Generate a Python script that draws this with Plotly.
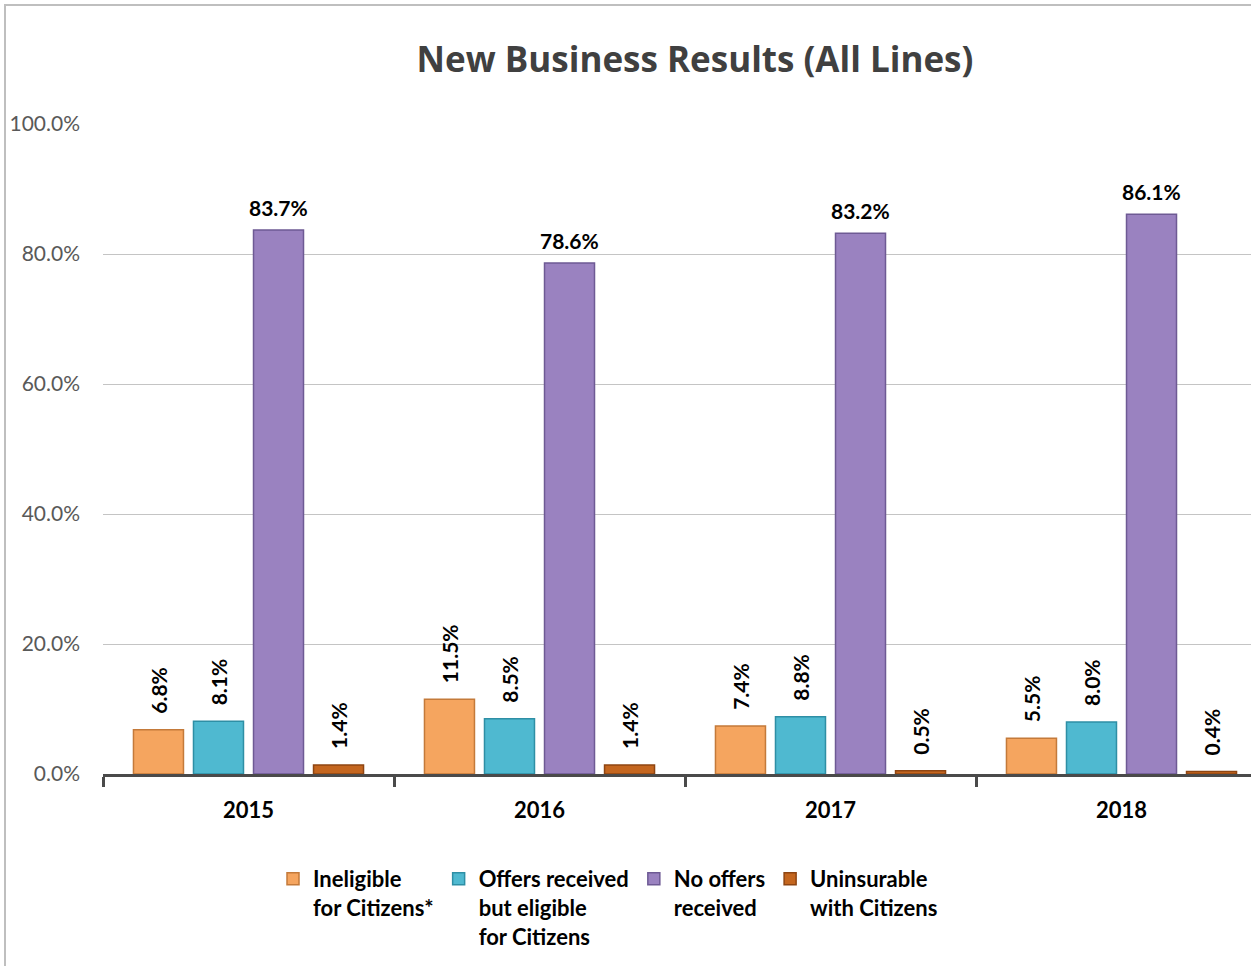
import plotly.graph_objects as go

years = ["2015", "2016", "2017", "2018"]
series_names = ["Ineligible<br>for Citizens*", "Offers received<br>but eligible<br>for Citizens",
                "No offers<br>received", "Uninsurable<br>with Citizens"]
ineligible = [6.8, 11.5, 7.4, 5.5]
offers_eligible = [8.1, 8.5, 8.8, 8.0]
no_offers = [83.7, 78.6, 83.2, 86.1]
uninsurable = [1.4, 1.4, 0.5, 0.4]

colors = ["#F5A55F", "#4FB9D0", "#9A82C0", "#C4661F"]
edge = ["#C47A3A", "#2E8FA5", "#6E5A94", "#8E4512"]
values = [ineligible, offers_eligible, no_offers, uninsurable]
angles = [-90, -90, 0, -90]

W, H = 1251, 966
ml, mr, mt, mb = 103, 0, 124, 192
pw, ph = W - ml - mr, H - mt - mb
cat_px = 291.0
x_max = -0.5 + pw / cat_px
bargap, groupgap = 0.175, 0.167
slot = cat_px * (1 - bargap) / 4

fig = go.Figure()
for i, (name, vals, c, e, a) in enumerate(zip(series_names, values, colors, edge, angles)):
    fig.add_trace(go.Bar(
        x=years, y=vals, name=name,
        marker=dict(color=c, line=dict(color=e, width=1.5)),
        cliponaxis=False,
    ))
    for j, v in enumerate(vals):
        fig.add_annotation(
            x=j, y=v, xref="x", yref="y", text=f"<b>{v:.1f}%</b>",
            showarrow=False, textangle=a, xanchor="center", yanchor="bottom",
            xshift=float((i - 1.5) * slot), yshift=(14 if a else 8),
            font=dict(family="Lato", size=21, color="#000000"),
        )

fig.update_layout(
    width=W, height=H,
    margin=dict(l=ml, r=mr, t=mt, b=mb),
    paper_bgcolor="white", plot_bgcolor="white",
    barmode="group", bargap=bargap, bargroupgap=groupgap,
    title=dict(text="<b>New Business Results (All Lines)</b>", x=695 / W, xanchor="center",
               y=1 - 60 / H, yanchor="middle",
               font=dict(family="Open Sans", size=35, color="#404040")),
    font=dict(family="Open Sans"),
    showlegend=True,
    legend=dict(orientation="h", x=(608 - ml) / pw, xanchor="center", y=-(858 - (mt + ph)) / ph, yanchor="top",
                font=dict(family="Lato", size=22, color="#000000", weight="bold"),
                traceorder="normal", itemwidth=30, valign="top"),
    xaxis=dict(type="category", range=[-0.5, x_max], showline=True, linecolor="#4A4A4A", linewidth=3,
               ticks="outside", tickson="boundaries", ticklen=10, tickwidth=3, tickcolor="#4A4A4A",
               tickfont=dict(family="Lato", size=22, color="#000000", weight="bold"),
               ticklabelstandoff=15, showgrid=False),
    yaxis=dict(range=[0, 100], tickvals=[0, 20, 40, 60, 80, 100],
               ticktext=["0.0%", "20.0%", "40.0%", "60.0%", "80.0%", "100.0%"],
               showgrid=True, gridcolor="#C4C4C4", gridwidth=1.3,
               tickfont=dict(family="Lato", size=21, color="#595959"),
               zeroline=False, showline=False, ticks="", ticklabelstandoff=22),
)

# outer frame
fig.add_shape(type="rect", xref="paper", yref="paper",
              x0=(5 - ml) / pw, x1=(1255 - ml) / pw,
              y0=-(975 - (mt + ph)) / ph, y1=1 + (mt - 5) / ph,
              line=dict(color="#BFBFBF", width=2), layer="below")

fig.write_html("out.html")
